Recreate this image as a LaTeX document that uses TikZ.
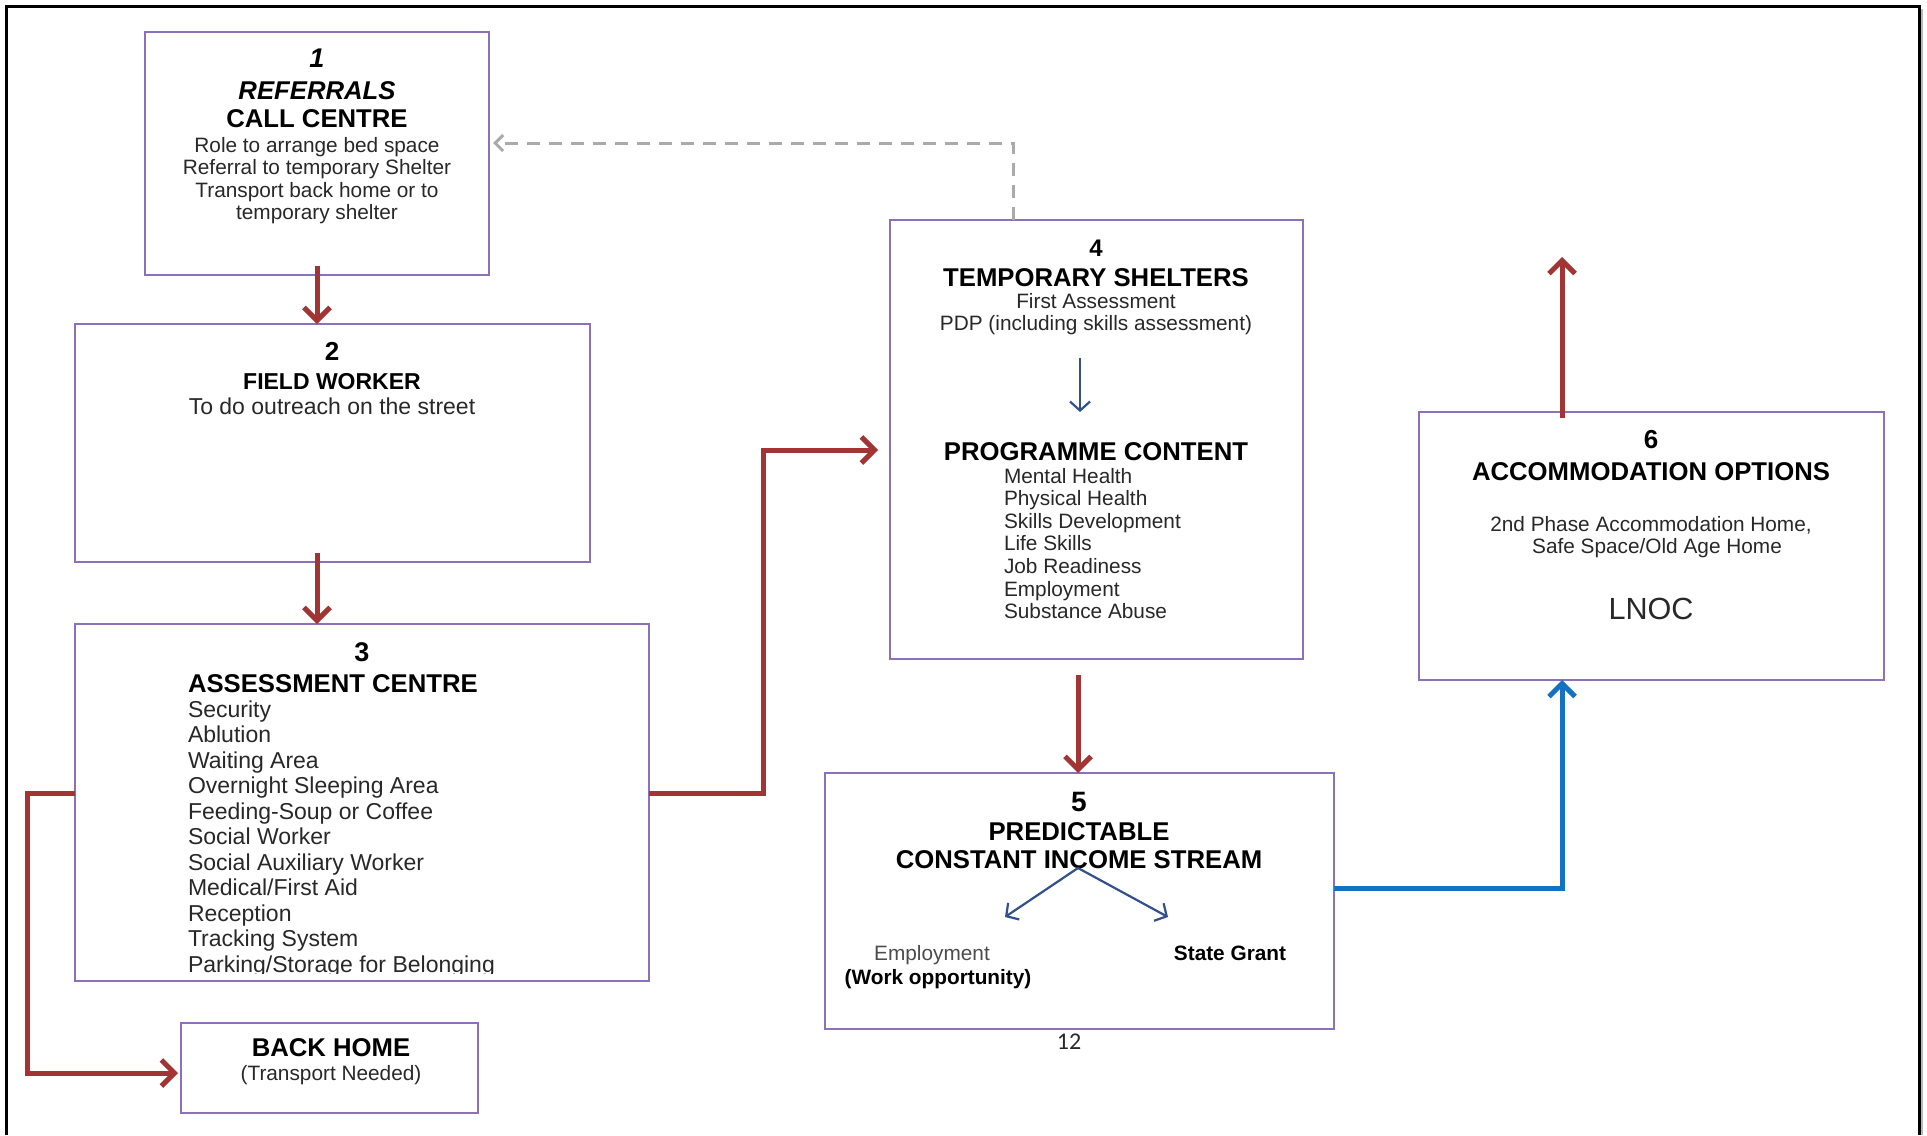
\documentclass[tikz,border=0pt]{standalone}
\usepackage{fontspec}
\setmainfont{Liberation Sans}
\newfontfamily\calibrifont{Carlito}
\usetikzlibrary{arrows.meta}
\definecolor{boxc}{RGB}{140,112,185}
\definecolor{redc}{RGB}{163,52,52}
\definecolor{bluec}{RGB}{20,114,196}
\definecolor{dbluec}{RGB}{50,80,140}
\definecolor{grayc}{RGB}{170,170,170}
\definecolor{txtc}{RGB}{40,40,40}
\begin{document}
\begin{tikzpicture}[x=1pt,y=-1pt,
  box/.style={draw=boxc,line width=1.8pt,inner sep=0pt,outer sep=0pt},
  lbl/.style={inner sep=0pt,outer sep=0pt,anchor=base,text=txtc},
  lbll/.style={lbl,anchor=base west},
  head/.style={font=\fontsize{25.7}{28}\selectfont\bfseries,text=black},
  body/.style={font=\fontsize{20.8}{22}\selectfont},
  bodyb/.style={font=\fontsize{20.8}{22}\selectfont\bfseries,text=black},
  item/.style={font=\fontsize{23}{25}\selectfont},
  redarrow/.style={draw=redc,line width=5pt,-{Straight Barb[length=13pt,width=26pt]}},
  bluearrow/.style={draw=bluec,line width=5pt,-{Straight Barb[length=13pt,width=26pt]}},
  thinarrow/.style={draw=dbluec,line width=2.2pt,-{Straight Barb[length=9pt,width=20pt]}},
  dasharrow/.style={draw=grayc,line width=3pt,dash pattern=on 13pt off 9pt,-{Straight Barb[length=8pt,width=16pt]}}
]
\useasboundingbox (0,0) rectangle (1927,1135);
\fill[white] (0,0) rectangle (1927,1135);
% outer frame
\draw[gray!55,line width=2pt] (1922,9) -- (1922,1135);
\draw[black,line width=3pt] (6,1135) -- (6,6) -- (1919,6) -- (1919,1135);

% boxes
\node[box,minimum width=344pt,minimum height=243pt] (b1) at (317,153.5) {};
\node[box,minimum width=515pt,minimum height=238pt] (b2) at (332.5,443) {};
\node[box,minimum width=574pt,minimum height=357pt] (b3) at (362,802.5) {};
\node[box,minimum width=297pt,minimum height=90pt] (bh) at (329.5,1068) {};
\node[box,minimum width=413pt,minimum height=439pt] (b4) at (1096.5,439.5) {};
\node[box,minimum width=509pt,minimum height=256pt] (b5) at (1079.5,901) {};
\node[box,minimum width=465pt,minimum height=268pt] (b6) at (1651.5,546) {};

% box 1 text
\node[lbl,font=\fontsize{27}{29}\selectfont\bfseries\itshape,text=black] (t1n) at (317,67) {1};
\node[lbl,font=\fontsize{25.7}{28}\selectfont\bfseries\itshape,text=black] (t1a) at (317,99) {REFERRALS};
\node[lbl,head] (t1b) at (317,127) {CALL CENTRE};
\node[lbl,body] (t1c) at (317,152) {Role to arrange bed space};
\node[lbl,body] (t1d) at (317,174) {Referral to temporary Shelter};
\node[lbl,body] (t1e) at (317,197) {Transport back home or to};
\node[lbl,body] (t1f) at (317,219) {temporary shelter};

% box 2 text
\node[lbl,font=\fontsize{26}{28}\selectfont\bfseries,text=black] (t2n) at (332,360) {2};
\node[lbl,font=\fontsize{23}{25}\selectfont\bfseries,text=black] (t2a) at (332,389) {FIELD WORKER};
\node[lbl,item] (t2b) at (332,414) {To do outreach on the street};

% box 3 text
\node[lbl,font=\fontsize{27}{29}\selectfont\bfseries,text=black] (t3n) at (362,661) {3};
\node[lbll,head] (t3a) at (188,692) {ASSESSMENT CENTRE};
\node[lbll,item] (t3b) at (188,717) {Security};
\node[lbll,item] (t3c) at (188,742.5) {Ablution};
\node[lbll,item] (t3d) at (188,768) {Waiting Area};
\node[lbll,item] (t3e) at (188,793.5) {Overnight Sleeping Area};
\node[lbll,item] (t3f) at (188,819) {Feeding-Soup or Coffee};
\node[lbll,item] (t3g) at (188,844.5) {Social Worker};
\node[lbll,item] (t3h) at (188,870) {Social Auxiliary Worker};
\node[lbll,item] (t3i) at (188,895.5) {Medical/First Aid};
\node[lbll,item] (t3j) at (188,921) {Reception};
\node[lbll,item] (t3k) at (188,946.5) {Tracking System};
\begin{scope}
\clip (75,624) rectangle (649,973.5);
\node[lbll,item] (t3l) at (188,972) {Parking/Storage for Belonging};
\end{scope}

% back home text
\node[lbl,head] (tha) at (331,1056) {BACK HOME};
\node[lbl,body] (thb) at (331,1080) {(Transport Needed)};

% box 4 text
\node[lbl,font=\fontsize{24}{26}\selectfont\bfseries,text=black] (t4n) at (1096,256) {4};
\node[lbl,head] (t4a) at (1096,286) {TEMPORARY SHELTERS};
\node[lbl,body] (t4b) at (1096,308) {First Assessment};
\node[lbl,body] (t4c) at (1096,330) {PDP (including skills assessment)};
\node[lbl,head] (t4d) at (1096,460) {PROGRAMME CONTENT};
\node[lbll,body] (t4e) at (1004,483) {Mental Health};
\node[lbll,body] (t4f) at (1004,505.6) {Physical Health};
\node[lbll,body] (t4g) at (1004,528.2) {Skills Development};
\node[lbll,body] (t4h) at (1004,550.8) {Life Skills};
\node[lbll,body] (t4i) at (1004,573.4) {Job Readiness};
\node[lbll,body] (t4j) at (1004,596) {Employment};
\node[lbll,body] (t4k) at (1004,618.6) {Substance Abuse};

% box 5 text
\node[lbl,font=\fontsize{28}{30}\selectfont\bfseries,text=black] (t5n) at (1079,811) {5};
\node[lbl,head] (t5a) at (1079,840) {PREDICTABLE};
\node[lbl,head] (t5b) at (1079,868) {CONSTANT INCOME STREAM};
\node[lbl,body,text=black!70] (t5c) at (932,960) {Employment};
\node[lbl,bodyb] (t5d) at (938,984) {(Work opportunity)};
\node[lbl,bodyb] (t5e) at (1230,960) {State Grant};
\node[lbl,font=\fontsize{24}{26}\calibrifont,text=txtc] (pg) at (1069,1049) {12};

% box 6 text
\node[lbl,font=\fontsize{26}{28}\selectfont\bfseries,text=black] (t6n) at (1651,448) {6};
\node[lbl,head] (t6a) at (1651,480) {ACCOMMODATION OPTIONS};
\node[lbl,body] (t6b) at (1651,531) {2nd Phase Accommodation Home,};
\node[lbl,body] (t6c) at (1657,553) {Safe Space/Old Age Home};
\node[lbl,font=\fontsize{30.6}{33}\selectfont] (t6d) at (1651,619) {LNOC};

% connectors
\coordinate (a1s) at ([yshift=9pt]b1.south);
\draw[redarrow] (a1s) -- (b1.south |- b2.north);
\coordinate (a2s) at ([yshift=9pt]b2.south);
\draw[redarrow] (a2s -| b1.south) -- (b1.south |- b3.north);

\coordinate (c34a) at (763,793);
\coordinate (c34b) at (763,450);
\coordinate (b4in) at ([xshift=-12pt]b4.west);
\draw[redarrow] (b3.east |- c34a) -- (c34a) -- (c34b) -- (b4in |- c34b);

\coordinate (c3ha) at (27,793);
\coordinate (c3hb) at (27,1073);
\coordinate (bhin) at ([xshift=-3pt]bh.west);
\draw[redarrow] (b3.west |- c3ha) -- (c3ha) -- (c3hb) -- (bhin |- c3hb);

\coordinate (x45) at (1078,0);
\coordinate (b4s) at ([yshift=-16pt]b4.south);
\draw[redarrow] (b4s -| x45) -- (b5.north -| x45);

\coordinate (c56) at (1562,888);
\draw[bluearrow] (b5.east |- c56) -- (c56) -- (b6.south -| c56);

\coordinate (b6n) at ([yshift=-6pt]b6.north);
\coordinate (top6) at (1562,257);
\draw[redarrow] (b6n -| c56) -- (top6);

\coordinate (cd) at (1013,143);
\coordinate (b1e) at ([xshift=4pt]b1.east);
\draw[dasharrow] (b4.north -| cd) -- (cd) -- (b1e |- cd);

% inner arrows
\coordinate (i4a) at (1080,358);
\coordinate (i4b) at (1080,412);
\draw[thinarrow] (i4a) -- (i4b);
\coordinate (i5) at (1078,868);
\coordinate (i5l) at (1005,917);
\coordinate (i5r) at (1168,917);
\draw[thinarrow] (i5) -- (i5l);
\draw[thinarrow] (i5) -- (i5r);
\end{tikzpicture}
\end{document}
